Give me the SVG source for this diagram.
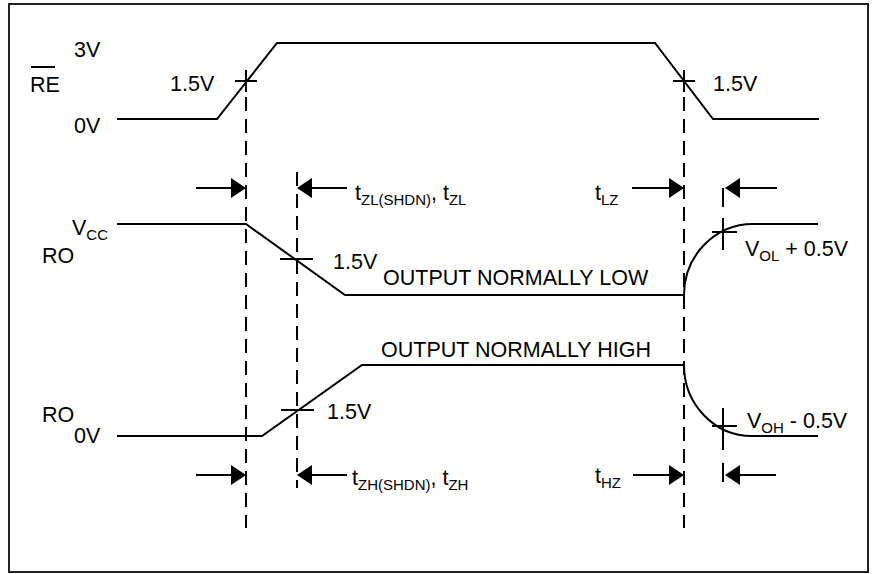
<svg xmlns="http://www.w3.org/2000/svg" width="872" height="574" viewBox="0 0 872 574">
<style>
.wave{fill:none;stroke:#000;stroke-width:2;stroke-linejoin:miter}
.tick{stroke:#000;stroke-width:2}
.dash{stroke:#000;stroke-width:2;stroke-dasharray:14 8}
.arr{stroke:#000;stroke-width:2}
.head{fill:#000}
text{font-family:"Liberation Sans",Arial,sans-serif;font-size:21.5px;fill:#000}
.sub{font-size:15px}
</style>
<rect x="9" y="4" width="859" height="568" fill="#fff" stroke="#222" stroke-width="2"/>

<g id="re-signal">
<polyline class="wave" points="117,119 217,119 277,43 655,43 713,119 819,119"/>
<line class="tick" x1="235" y1="81" x2="257" y2="81"/>
<line class="tick" x1="246" y1="70" x2="246" y2="92"/>
<line class="tick" x1="673" y1="81" x2="695" y2="81"/>
<line class="tick" x1="684" y1="70" x2="684" y2="92"/>
<text x="30" y="92">RE</text>
<line class="tick" x1="31" y1="67" x2="55" y2="67"/>
<text x="74" y="57">3V</text>
<text x="74" y="133">0V</text>
<text x="170" y="91">1.5V</text>
<text x="713" y="91">1.5V</text>
</g>

<g id="ro-low">
<polyline class="wave" points="117,224 246,224 345,295 684,295"/>
<path class="wave" d="M684,295 A69,71 0 0 1 753,224 L818,224"/>
<line class="tick" x1="280" y1="259" x2="313" y2="259"/>
<line class="tick" x1="712" y1="232" x2="737" y2="232"/>
<line class="tick" x1="723" y1="218" x2="723" y2="250"/>
<text x="72" y="235">V<tspan class="sub" dy="5">CC</tspan></text>
<text x="42" y="263">RO</text>
<text x="333" y="269">1.5V</text>
<text x="383" y="285">OUTPUT NORMALLY LOW</text>
<text x="745" y="256">V<tspan class="sub" dy="5">OL</tspan><tspan dy="-5"> + 0.5V</tspan></text>
</g>

<g id="ro-high">
<polyline class="wave" points="117,436 262,436 362,365 684,365"/>
<path class="wave" d="M684,365 A68,71 0 0 0 752,436 L818,436"/>
<line class="tick" x1="281" y1="410" x2="314" y2="410"/>
<line class="tick" x1="712" y1="426" x2="737" y2="426"/>
<line class="tick" x1="723" y1="408" x2="723" y2="450"/>
<text x="42" y="422">RO</text>
<text x="74" y="443">0V</text>
<text x="327" y="419">1.5V</text>
<text x="381" y="357">OUTPUT NORMALLY HIGH</text>
<text x="747" y="428">V<tspan class="sub" dy="5">OH</tspan><tspan dy="-5"> - 0.5V</tspan></text>
</g>

<g id="connectors">
<line class="dash" x1="246" y1="97" x2="246" y2="528"/>
<line class="dash" x1="297" y1="172" x2="297" y2="488"/>
<line class="dash" x1="684" y1="97" x2="684" y2="528"/>
<line class="tick" x1="723" y1="188" x2="723" y2="207"/>
<line class="tick" x1="723" y1="463" x2="723" y2="482"/>

<line class="arr" x1="196" y1="188" x2="232" y2="188"/>
<polygon class="head" points="246,188 231,178 231,198"/>
<line class="arr" x1="311" y1="188" x2="347" y2="188"/>
<polygon class="head" points="297,188 312,178 312,198"/>
<line class="arr" x1="632" y1="188" x2="670" y2="188"/>
<polygon class="head" points="684,188 669,178 669,198"/>
<line class="arr" x1="739" y1="188" x2="777" y2="188"/>
<polygon class="head" points="725,188 740,178 740,198"/>

<line class="arr" x1="196" y1="475" x2="232" y2="475"/>
<polygon class="head" points="246,475 231,465 231,485"/>
<line class="arr" x1="311" y1="475" x2="347" y2="475"/>
<polygon class="head" points="297,475 312,465 312,485"/>
<line class="arr" x1="633" y1="475" x2="670" y2="475"/>
<polygon class="head" points="684,475 669,465 669,485"/>
<line class="arr" x1="739" y1="475" x2="776" y2="475"/>
<polygon class="head" points="725,475 740,465 740,485"/>

<text x="355" y="200">t<tspan class="sub" dy="5">ZL(SHDN)</tspan><tspan dy="-5">, t</tspan><tspan class="sub" dy="5">ZL</tspan></text>
<text x="595" y="200">t<tspan class="sub" dy="5">LZ</tspan></text>
<text x="352" y="485">t<tspan class="sub" dy="5">ZH(SHDN)</tspan><tspan dy="-5">, t</tspan><tspan class="sub" dy="5">ZH</tspan></text>
<text x="595" y="483">t<tspan class="sub" dy="5">HZ</tspan></text>
</g>
</svg>
